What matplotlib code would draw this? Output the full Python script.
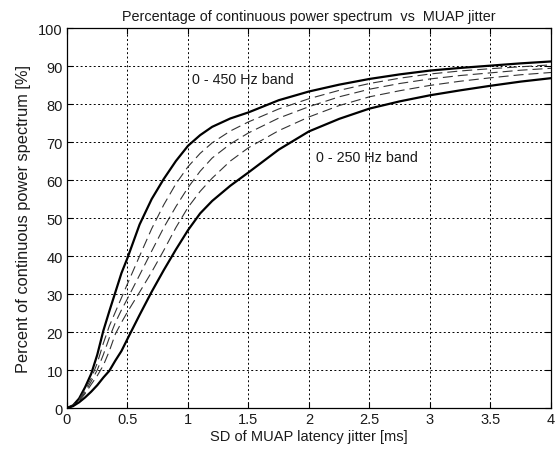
import numpy as np
import matplotlib.pyplot as plt

plt.rcParams['font.family'] = ['Liberation Sans', 'DejaVu Sans']

# SD of MUAP latency jitter [ms]
jitter = [0, 0.05, 0.1, 0.15, 0.2, 0.25, 0.3, 0.35, 0.4, 0.45, 0.5, 0.6, 0.7, 0.8, 0.9,
          1.0, 1.1, 1.2, 1.35, 1.5, 1.75, 2.0, 2.25, 2.5, 2.75, 3.0, 3.25, 3.5, 3.75, 4.0]

# 0 - 450 Hz band (upper solid)
band450 = [0, 0.7, 2.5, 5.5, 9, 14, 20.3, 25.5, 30.5, 35.5, 39.5, 48.3, 55, 60.3, 65,
           69, 71.8, 74, 76.2, 77.8, 81, 83.3, 85.1, 86.6, 87.8, 88.8, 89.5, 90.1, 90.7, 91.2]
# intermediate bands (dashed)
band_b = [0, 0.6, 2.2, 4.8, 7.8, 11.8, 17, 21.6, 25.3, 29, 32.7, 40, 47.2, 53.5, 59,
          63.5, 67, 69.8, 72.9, 75.3, 78.7, 81.4, 83.6, 85.4, 86.8, 87.9, 88.7, 89.3, 89.8, 90.3]
band_c = [0, 0.6, 2, 4.2, 7, 10, 14, 18.5, 22.5, 25.8, 28.8, 35, 41.3, 47.5, 53,
          58, 62.3, 65.8, 69.5, 72.4, 76.3, 79.3, 81.9, 83.9, 85.4, 86.6, 87.5, 88.2, 88.9, 89.4]
band_d = [0, 0.5, 1.8, 3.8, 6.2, 8.5, 11.2, 15, 19.5, 22.5, 25.3, 30.5, 35.8, 41.5, 47.5,
          52.8, 57, 60.5, 65, 68.5, 73, 76.6, 79.6, 81.9, 83.5, 84.9, 86, 86.9, 87.7, 88.3]
# 0 - 250 Hz band (lower solid)
band250 = [0, 0.5, 1.5, 2.8, 4.3, 6, 8, 9.8, 12.5, 15, 18.2, 24.5, 30.6, 36.3, 41.7,
           46.8, 51.2, 54.5, 58.5, 62, 68, 72.8, 76.1, 78.8, 80.7, 82.3, 83.6, 84.8, 85.9, 86.8]

fig = plt.figure(figsize=(5.56, 4.52), dpi=100)
ax = fig.add_axes([0.1205, 0.0951, 0.8705, 0.8407])

ax.plot(jitter, band450, color='black', lw=1.6)
for band in [band_b, band_c, band_d]:
    ax.plot(jitter, band, color='#333333', lw=0.8, linestyle=(0, (9, 4.5)))
ax.plot(jitter, band250, color='black', lw=1.6)

ax.text(1.03, 86.6, '0 - 450 Hz band', fontsize=10.3, va='center', ha='left', color='#1a1a1a')
ax.text(2.06, 66, '0 - 250 Hz band', fontsize=10.3, va='center', ha='left', color='#1a1a1a')

ax.set_xlim(0, 4)
ax.set_ylim(0, 100)
ax.set_xticks(np.arange(0, 4.01, 0.5))
ax.set_xticklabels(['0', '0.5', '1', '1.5', '2', '2.5', '3', '3.5', '4'])
ax.set_yticks(np.arange(0, 101, 10))
ax.tick_params(direction='in', top=True, right=True, length=4, width=0.8,
               labelsize=10.5, pad=3, labelcolor='#1a1a1a')
ax.grid(True, color='black', lw=0.7, linestyle=(0, (2, 2.5)))
for s in ax.spines.values():
    s.set_linewidth(0.9)

ax.set_title('Percentage of continuous power spectrum  vs  MUAP jitter', fontsize=10.4,
             pad=6, color='#1a1a1a')
ax.set_xlabel('SD of MUAP latency jitter [ms]', fontsize=10.5, labelpad=2, color='#1a1a1a')
ax.set_ylabel('Percent of continuous power spectrum [%]', fontsize=11.8, labelpad=5,
              color='#1a1a1a')

plt.savefig('out.png', dpi=100)
